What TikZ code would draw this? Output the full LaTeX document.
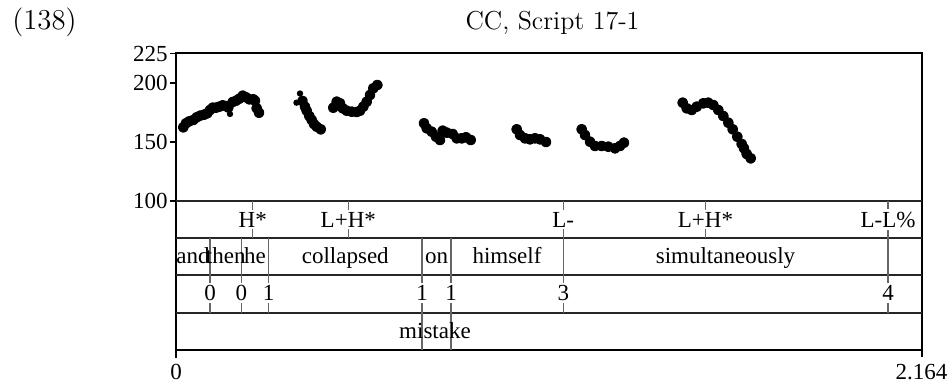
\documentclass[tikz,border=0pt]{standalone}
\usepackage{fontspec}
\newfontfamily\tnr{Liberation Serif}
\begin{document}
\begin{tikzpicture}[x=0.5pt,y=-0.5pt,
  txt/.style={font=\tnr\fontsize{11.5}{13}\selectfont, inner sep=0pt},
  tier/.style={txt, anchor=base},
  lbl/.style={tier, fill=white, inner ysep=1.2pt, inner xsep=0.3pt},
  ylab/.style={txt, anchor=east},
  axis/.style={line width=1pt, line cap=rect},
  tline/.style={line width=0.7pt, draw=black!85},
  bnd/.style={line width=0.55pt, draw=black!60},
  pc/.style={line width=2.3pt, line cap=round, line join=round, mark=*, mark size=1.55pt}]
\useasboundingbox (0,0) rectangle (950,386);
% titles
\node[anchor=base west, inner sep=0pt, font=\fontsize{14.4}{16}\selectfont] (num) at (12,29.5) {(138)};
\node[anchor=base, inner sep=0pt, font=\fontsize{13}{15}\selectfont] (title) at (552.5,29.5) {CC, Script 17-1};
% frame
\draw[line width=0.8pt] (176,53) -- (922,53) -- (922,357);
\draw[axis] (176,53) -- (176,357);
\foreach \y in {201,238,275,313} \draw[tline] (176,\y) -- (922,\y);
\draw[line width=1.1pt] (176,350) -- (922,350);
% y ticks
\foreach \v/\y in {225/53.5,200/83,150/142,100/201} {
  \draw[line width=0.7pt] (170,\y) -- (176,\y);
  \node[ylab] (y\v) at (168,\y) {\v};
}
% boundaries
\foreach \x in {252.7,348.3,705.5} \draw[bnd] (\x,201) -- (\x,238);
\foreach \x in {563.3,888} \draw[bnd] (\x,201) -- (\x,313);
\foreach \x in {210,241.3,268.7} \draw[bnd] (\x,238) -- (\x,313);
\foreach \x in {422,451} \draw[bnd] (\x,238) -- (\x,350);
% tones
\node[lbl] (t1) at (252.7,227) {H*};
\node[lbl] (t2) at (348.3,227) {L+H*};
\node[lbl] (t3) at (563.3,227) {L-};
\node[lbl] (t4) at (705.5,227) {L+H*};
\node[lbl] (t5) at (888,227) {L-L\%};
% words
\node[tier] (w1) at (193,263.5) {and};
\node[tier] (w2) at (225.7,263.5) {then};
\node[tier] (w3) at (255,263.5) {he};
\node[tier] (w4) at (345.3,263.5) {collapsed};
\node[tier] (w5) at (436.5,263.5) {on};
\node[tier] (w6) at (507,263.5) {himself};
\node[tier] (w7) at (725.5,263.5) {simultaneously};
% breaks
\node[lbl] (b1) at (210,300.5) {0};
\node[lbl] (b2) at (241.3,300.5) {0};
\node[lbl] (b3) at (268.7,300.5) {1};
\node[lbl] (b4) at (422,300.5) {1};
\node[lbl] (b5) at (451,300.5) {1};
\node[lbl] (b6) at (563.3,300.5) {3};
\node[lbl] (b7) at (888,300.5) {4};
% misc
\node[tier] (m1) at (435,338) {mistake};
% time axis
\node[txt] (x0) at (176,372) {0};
\node[txt] (x1) at (921.5,372) {2.164};
% pitch track
\draw[pc] plot coordinates {(183.3,127.3) (186,123.3) (189.3,121.3) (193.3,120) (196.7,117.3) (200,115.7) (204,114.7) (207.3,113.3) (210,110) (212.7,107.7) (216,107.7) (219.3,106.7) (222.7,105.3) (226,106) (228.3,107.5)};
\fill (230,114) circle[radius=1.6pt];
\draw[pc] plot coordinates {(232.7,102) (236,100.7) (239.3,98.7) (242.7,95.7) (246,97.3) (249.3,99.3) (253.3,99.3) (255,100.7)};
\draw[pc] plot coordinates {(256.7,108.3) (259,112.7)};
\fill (300,93.5) circle[radius=1.6pt];
\fill (296.5,102.7) circle[radius=1.6pt];
\draw[pc] plot coordinates {(302.5,101) (305,106.7) (306.7,110.7) (309.3,116) (311.7,120) (314,124) (316.7,126.7) (320.7,129.3)};
\draw[pc] plot coordinates {(333.3,107.7) (336.7,101.7) (340,103.3) (342.7,108.3) (346.7,110.7) (351.7,111.7) (356.7,112) (360,110.7) (363.3,106.7) (366.7,101.7) (370,95) (373.3,88.3) (377.3,85)};
\draw[pc] plot coordinates {(424,123.3) (426.7,128.3) (431.7,131.7) (436,136.7) (440,140)};
\draw[pc] plot coordinates {(442.7,130.7) (447,132.7) (452.7,134) (456.7,138.3) (461.7,138.3) (466,137.3) (470.7,140)};
\draw[pc] plot coordinates {(516.7,129.3) (520,135) (525,138.3) (530,139.3) (535,138.3) (540,139.3) (546,142)};
\draw[pc] plot coordinates {(581.7,129.3) (585,135) (590,141.7) (595,146) (601.7,146) (608.3,146.7) (615,148.3) (620,146) (624,142.7)};
\draw[pc] plot coordinates {(682.7,102.7) (686.7,108.3) (691.7,110) (696.7,106.7) (703.3,103.3) (708.3,102.7) (713.3,105) (718.3,110) (723.3,116) (728.3,122.7) (732.7,129.3) (737.3,136.7) (741.7,144) (744,148.3) (746.7,154) (750.7,158.3)};
\end{tikzpicture}
\end{document}
